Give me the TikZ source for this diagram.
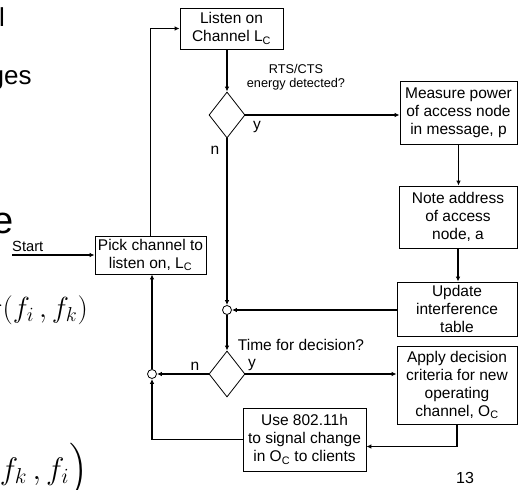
\documentclass[tikz,border=0pt]{standalone}
\usepackage{amsmath}
\usepackage{graphicx}
\usepackage[no-math]{fontspec}
\setmainfont{Liberation Sans}
\usepackage{tikz}
\usetikzlibrary{shapes.geometric,arrows.meta,positioning,calc}

\newcommand\boxfont{\fontsize{15.5}{18}\selectfont}
\newcommand\lblfont{\fontsize{12.7}{14.5}\selectfont}
\newcommand\bgfont{\fontsize{26}{30}\selectfont}
\newcommand\mathbg{\fontsize{20.74}{24}\selectfont}

\tikzset{
  box/.style={draw, line width=0.8pt, inner sep=0pt, align=center, font=\boxfont},
  decide/.style={draw, diamond, line width=0.8pt, inner sep=0pt, minimum width=36pt, minimum height=46pt},
  joint/.style={draw, circle, line width=0.8pt, inner sep=0pt, minimum size=9pt},
  flow/.style={line width=1.4pt, -{Latex[length=5pt,width=4.5pt]}},
  lbl/.style={inner sep=0pt, font=\lblfont},
  tag/.style={inner sep=0pt, font=\boxfont},
  bgtext/.style={inner sep=0pt, anchor=base west, font=\bgfont},
}

\begin{document}
\begin{tikzpicture}[x=1pt, y=-1pt]
\def \boxx {457}
\def \decx {227}
\useasboundingbox (0,0) rectangle (518,489);
\clip (0,0) rectangle (518,489);

%slide text behind the chart
\node[bgtext] (bgl) at (-1,27) {l};
\node[bgtext] (bgges) at (-10.5,85) {ges};
\node[bgtext, font=\fontsize{38}{40}\selectfont] (bge) at (-8,233) {e};
\node[bgtext, anchor=base east, font=\mathbg] (bgsigma) at (88,317) {\scalebox{1.4}{$\sigma(f_i\,,f_k)$}};
\node[bgtext, anchor=base east, font=\mathbg] (bgpair) at (88,479) {\scalebox{1.5}{$\Bigl(f_k\,,f_i\Bigr)$}};

%Boxes
\node[box, minimum width=103pt, minimum height=41pt] (listen) at (231.5,28.5) {Listen on\\Channel L\textsubscript{C}};
\node[box, minimum width=111pt, minimum height=38pt] (pick) at (150.5,255) {Pick channel to\\listen on, L\textsubscript{C}};
\node[box, minimum width=117pt, minimum height=63pt] (measure) at (\boxx+1.5,112.5) {Measure power\\of access node\\in message, p};
\node[box, minimum width=118pt, minimum height=62pt] (note) at (\boxx+1,217) {Note address\\of access\\node, a};
\node[box, minimum width=120pt, minimum height=54pt] (update) at (\boxx,309) {Update\\interference\\table};
\node[box, minimum width=120pt, minimum height=78pt] (apply) at (\boxx,385) {Apply decision\\criteria for new\\operating\\channel, O\textsubscript{C}};
\node[box, minimum width=123pt, minimum height=63pt] (use) at (304.5,439.5) {Use 802.11h\\to signal change\\in O\textsubscript{C} to clients};

%Decisions and joints
\node[decide] (d1) at (\decx,115) {};
\node[decide] (d2) at (\decx,374) {};
\node[joint] (c1) at (\decx,310) {};
\node[joint] (c2) at (152,374) {};
\coordinate (start) at (12,255);

%Labels
\node[lbl, font=\fontsize{14.7}{16}\selectfont, anchor=base west] (startlbl) at (12,251) {Start};
\node[lbl, align=center] (rts) at (296,77) {RTS/CTS\\energy detected?};
\node[tag] (y1) at (257,127) {y};
\node[tag] (n1) at (215,150) {n};
\node[tag] (timedec) at (301,345) {Time for decision?};
\node[tag] (y2) at (252,365) {y};
\node[tag] (n2) at (195,366) {n};
\node[tag, font=\fontsize{16}{18}\selectfont] (pagenum) at (465,478) {13};

%Connectors
\draw[flow] (start) -- (start -| pick.west);
\draw[flow] (pick.north) |- (listen.west);
\draw[flow] (listen.south -| d1.north) -- (d1.north);
\draw[flow] (d1.east) -- (d1.east -| measure.west);
\draw[flow] (measure.south) -- (measure.south |- note.north);
\draw[flow] (note.south) -- (note.south |- update.north);
\draw[flow] (update.west |- c1) -- (c1.east);
\draw[flow] (d1.south) -- (c1.north);
\draw[flow] (c1.south) -- (d2.north);
\draw[flow] (d2.east) -- (d2.east -| apply.west);
\draw[flow] (d2.west) -- (c2.east);
\draw[flow] (c2.north) -- (c2.north |- pick.south);
\draw[flow] (apply.south) |- ([yshift=-7pt]use.east);
\draw[flow] (use.west) -| (c2.south);
\end{tikzpicture}
\end{document}
